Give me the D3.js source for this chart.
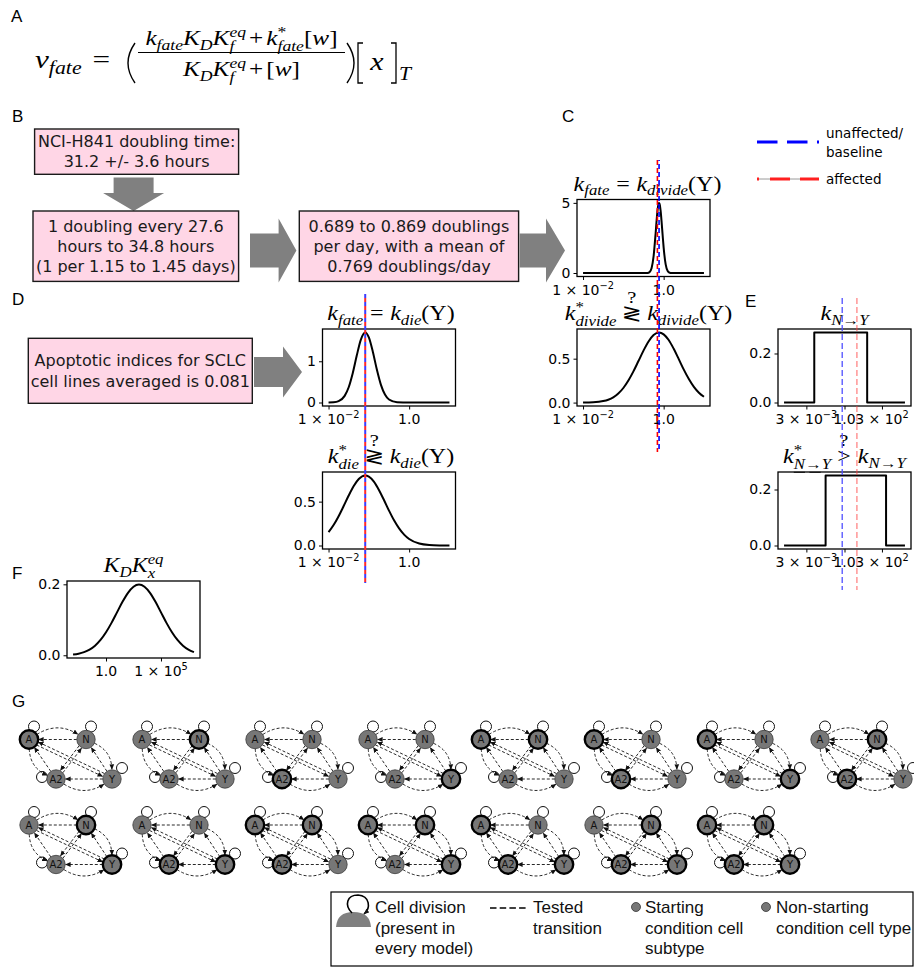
<!DOCTYPE html>
<html>
<head>
<meta charset="utf-8">
<script src="https://cdn.jsdelivr.net/npm/d3@7"></script>
<style>
  html, body { margin: 0; padding: 0; background: #fff; }
  svg { display: block; }
</style>
</head>
<body>
<svg id="fig" width="914" height="968"></svg>
<script>
// ---------------- data ----------------
// Panel C (top): prior on log10 k_divide (per day) for Y cells
const divideLog10 = [-2, -0.45, -0.4, -0.35, -0.3, -0.25, -0.2, -0.175, -0.15, -0.125, -0.114, -0.1, -0.075, -0.05, -0.025, 0, 0.05, 0.1, 0.15, 0.2, 0.25, 1];
const divideDensity = [0, 0.001, 0.008, 0.064, 0.335, 1.18, 2.80, 3.73, 4.51, 4.94, 4.99, 4.91, 4.43, 3.62, 2.69, 1.81, 0.61, 0.14, 0.02, 0.002, 0, 0];
// Panel C (bottom): prior on log10 k*_divide
const divideStarLog10 = [-2, -1.75, -1.5, -1.375, -1.25, -1.125, -1, -0.875, -0.75, -0.625, -0.5, -0.375, -0.25, -0.114, 0, 0.125, 0.25, 0.375, 0.5, 0.625, 0.75, 0.875, 1];
const divideStarDensity = [0.001, 0.004, 0.017, 0.033, 0.060, 0.103, 0.166, 0.251, 0.355, 0.473, 0.592, 0.696, 0.769, 0.798, 0.777, 0.712, 0.612, 0.495, 0.375, 0.268, 0.179, 0.113, 0.067];
// Panel D (top): prior on log10 k_die
const dieLog10 = [-2, -1.875, -1.75, -1.6, -1.5, -1.4, -1.3, -1.2, -1.09, -1.0, -0.9, -0.8, -0.7, -0.6, -0.5, -0.3, 0, 0.5, 1];
const dieDensity = [0.001, 0.006, 0.033, 0.161, 0.370, 0.711, 1.138, 1.521, 1.698, 1.578, 1.225, 0.793, 0.428, 0.193, 0.073, 0.006, 0, 0, 0];
// Panel D (bottom): prior on log10 k*_die
const dieStarLog10 = [-2, -1.875, -1.75, -1.625, -1.5, -1.375, -1.25, -1.09, -1, -0.875, -0.75, -0.625, -0.5, -0.375, -0.25, -0.125, 0, 0.25, 0.5, 0.75, 1];
const dieStarDensity = [0.152, 0.233, 0.334, 0.450, 0.570, 0.678, 0.758, 0.798, 0.785, 0.728, 0.633, 0.518, 0.398, 0.287, 0.195, 0.124, 0.074, 0.022, 0.005, 0.001, 0];
// Panel E: log-uniform priors on the N -> Y transition rate
const transLog10 = [-4, -2, -2, 1.5, 1.5, 4];
const transDensity = [0, 0, 0.2857, 0.2857, 0, 0];
const transStarLog10 = [-4, -1.25, -1.25, 2.75, 2.75, 4];
const transStarDensity = [0, 0, 0.25, 0.25, 0, 0];
// Panel F: prior on log10 K_D K_x^eq
const kdLog10 = [-3, -2.5, -2, -1.5, -1, -0.5, 0, 0.5, 1, 1.5, 2, 2.5, 3, 3.5, 4, 4.5, 5, 5.5, 6, 6.5, 7, 7.5, 8];
const kdDensity = [0.0022, 0.0045, 0.0088, 0.0159, 0.0270, 0.0431, 0.0648, 0.0913, 0.1210, 0.1506, 0.1760, 0.1933, 0.1995, 0.1933, 0.1760, 0.1506, 0.1210, 0.0913, 0.0648, 0.0431, 0.0270, 0.0159, 0.0088];

// reference rates (log10): unaffected/baseline and affected
const divideRef = { baseline: -0.114, affected: -0.155 };
const dieRef = { baseline: -1.09, affected: -1.09 };
const transRef = { baseline: -0.15, affected: 0.82 };

// tick values and labels
const rateTicks = [-2, 0];
const rateTickLabels = ['1 × 10^−2', '1.0'];
const transTicks = [Math.log10(0.003), 0, Math.log10(300)];
const transTickLabels = ['3 × 10^−3', '1.0', '3 × 10^2'];
const kdTicks = [0, 5];
const kdTickLabels = ['1.0', '1 × 10^5'];
const divideYTicks = [0, 5], divideStarYTicks = [0, 0.5];
const dieYTicks = [0, 1], dieStarYTicks = [0, 0.5];
const transYTicks = [0, 0.2], kdYTicks = [0, 0.2];

// Panel B / D text boxes
const doublingLines = ['NCI-H841 doubling time:', '31.2 +/- 3.6 hours'];
const intervalLines = ['1 doubling every 27.6', 'hours to 34.8 hours', '(1 per 1.15 to 1.45 days)'];
const rateLines = ['0.689 to 0.869 doublings', 'per day, with a mean of', '0.769 doublings/day'];
const apoptosisLines = ['Apoptotic indices for SCLC', 'cell lines averaged is 0.081'];

// Panel G: candidate model topologies
const cellTypes = ['A', 'N', 'A2', 'Y'];
const startingSets = [
  ['A'], ['N'], ['A2'], ['Y'],
  ['A', 'N'], ['A', 'A2'], ['A', 'Y'], ['N', 'A2'],
  ['N', 'Y'], ['A2', 'Y'],
  ['A', 'N', 'A2'], ['A', 'N', 'Y'], ['A', 'A2', 'Y'], ['N', 'A2', 'Y'],
  ['A', 'N', 'A2', 'Y']
];
const transitions = [
  ['A', 'N', 'arc'], ['N', 'A', 'line'],
  ['N', 'Y', 'arc'], ['Y', 'N', 'line'],
  ['A2', 'Y', 'arc'], ['Y', 'A2', 'line'],
  ['A', 'A2', 'arc'], ['A2', 'A', 'line'],
  ['A', 'Y', 'pair'], ['Y', 'A', 'pair'],
  ['N', 'A2', 'pair'], ['A2', 'N', 'pair']
];
const legendItems = [
  ['Cell division', '(present in', 'every model)'],
  ['Tested', 'transition'],
  ['Starting', 'condition cell', 'subtype'],
  ['Non-starting', 'condition cell type']
];

// ---------------- setup ----------------
const SANS = "'Liberation Sans', Arial, sans-serif";
const DJV = "'DejaVu Sans', Verdana, sans-serif";
const SERIF = "'Liberation Serif', 'Times New Roman', serif";
const SYM = "'DejaVu Serif', 'DejaVu Sans', serif";
const MATH_SX = 1.2;   // horizontal widening of the serif math glyphs
const svg = d3.select('#fig');

const defs = svg.append('defs');
defs.append('marker')
  .attr('id', 'arrowhead').attr('viewBox', '0 0 6 6')
  .attr('refX', 5.6).attr('refY', 3).attr('markerWidth', 5.5).attr('markerHeight', 5.5)
  .attr('markerUnits', 'userSpaceOnUse').attr('orient', 'auto')
  .append('path').attr('d', 'M0,0.4L6,3L0,5.6Z').attr('fill', '#111');

// ---- tiny math typesetter (italic serif, sub/superscripts) ----
const I = t => ({ t, it: true });
const R = t => ({ t });
const SB = t => ({ t, it: true, lv: 'sub' });
const SP = t => ({ t, lv: 'sup' });
const ST = (a, b) => ({ stack: [a, b] });
const GAP = g => ({ gap: g });

function mathRow(parent, tokens, size, family) {
  const g = parent.append('g');
  let x = 0;
  const small = size * 0.7, subY = size * 0.24, supY = -size * 0.4;
  const add = (t, x0, y0, fs, ital, fam, anchor) => {
    const el = g.append('text').attr('x', x0).attr('y', y0)
      .attr('font-size', fs).attr('font-family', fam || family)
      .attr('font-style', ital ? 'italic' : 'normal')
      .attr('text-anchor', anchor || 'start').attr('fill', '#000').text(t);
    return el.node().getComputedTextLength();
  };
  const uline = (x1, x2, y) => g.append('line').attr('x1', x1).attr('x2', x2).attr('y1', y).attr('y2', y)
    .attr('stroke', '#000').attr('stroke-width', 0.8);
  tokens.forEach(tk => {
    if (tk.gap !== undefined) { x += tk.gap * size; return; }
    if (tk.stack) {
      const w1 = add(tk.stack[0], x, supY, small, tk.stack[0] !== '*', tk.fam);
      const w2 = add(tk.stack[1], x, subY + 1, small, true, tk.fam);
      if (tk.ul) tk.ul.forEach(u => uline(x + u[0] * w2, x + u[1] * w2, subY + 4.5));
      x += Math.max(w1, w2); return;
    }
    const fs = tk.lv ? small : size * (tk.scale || 1);
    const yy = tk.lv === 'sub' ? subY : tk.lv === 'sup' ? supY : (tk.dy || 0) * size;
    const w = add(tk.t, x, yy, fs, tk.it, tk.fam);
    if (tk.over) add(tk.over, x + w / 2, -size * 0.85, size * 0.85, false, SERIF, 'middle');
    if (tk.ulw) tk.ulw.forEach(u => uline(x + u[0], x + u[1], size * 0.45));
    x += w;
  });
  return { g, w: x };
}
function placeMath(m, x, y, anchor, sx) {
  sx = sx || 1;
  const W = m.w * sx;
  const x0 = anchor === 'middle' ? x - W / 2 : anchor === 'end' ? x - W : x;
  m.g.attr('transform', `translate(${x0},${y}) scale(${sx},1)`);
  return x0 + W;
}
function tickTokens(label) {
  const [base, sup] = label.split('^');
  return sup ? [R(base), SP(sup)] : [R(base)];
}

// ---- panel letters ----
[['A', 11, 22], ['B', 12, 122], ['C', 562, 122], ['D', 12, 305], ['E', 745, 307], ['F', 12, 579], ['G', 12, 707]]
  .forEach(([t, x, y]) => svg.append('text').attr('x', x).attr('y', y).attr('font-family', SANS)
    .attr('font-size', 17).attr('fill', '#000').text(t));

// ---- Panel A: rate law ----
const fA = svg.append('g');
const lhs = mathRow(fA, [I('ν'), SB('fate'), GAP(0.35), R('=')], 26, SERIF);
placeMath(lhs, 35, 68, 'start', MATH_SX);
const stroke = (d, w) => fA.append('path').attr('d', d).attr('fill', 'none').attr('stroke', '#000').attr('stroke-width', w);
stroke('M135,43 Q121,63 135,83', 1.4);                       // (
const num = mathRow(fA, [I('k'), SB('fate'), I('K'), SB('D'), I('K'), ST('eq', 'f'), GAP(0.12), R('+'), GAP(0.12),
  I('k'), ST('*', 'fate'), R('['), I('w'), R(']')], 21, SERIF);
const den = mathRow(fA, [I('K'), SB('D'), I('K'), ST('eq', 'f'), GAP(0.12), R('+'), GAP(0.12), R('['), I('w'), R(']')], 21, SERIF);
placeMath(num, 241.5, 45, 'middle', MATH_SX);
placeMath(den, 241.5, 76, 'middle', MATH_SX);
fA.append('line').attr('x1', 138).attr('x2', 345).attr('y1', 52.5).attr('y2', 52.5)
  .attr('stroke', '#000').attr('stroke-width', 1);
stroke('M347,43 Q361,63 347,83', 1.4);                       // )
stroke('M363,43 H358 V83 H363', 1.3);                        // [
const xv = mathRow(fA, [I('x')], 25, SERIF);
placeMath(xv, 377, 70, 'middle', MATH_SX);
stroke('M391,43 H396 V83 H391', 1.3);                        // ]
const tsub = mathRow(fA, [I('T')], 18, SERIF);
placeMath(tsub, 399, 80, 'start', MATH_SX);

// ---- text boxes and block arrows ----
function textBox(x, y, w, h, lines, lineGap) {
  svg.append('rect').attr('x', x).attr('y', y).attr('width', w).attr('height', h)
    .attr('fill', '#ffd6e6').attr('stroke', '#1a1a1a').attr('stroke-width', 1.4);
  const n = lines.length, cy = y + h / 2;
  lines.forEach((t, i) => svg.append('text').attr('x', x + w / 2)
    .attr('y', cy + (i - (n - 1) / 2) * lineGap + 5.6).attr('text-anchor', 'middle')
    .attr('font-family', DJV).attr('font-size', 16).attr('fill', '#1a1a1a').text(t));
}
function arrowRight(x0, xh, xt, cy, sh, hh) {
  svg.append('path').attr('fill', '#808080')
    .attr('d', `M${x0},${cy - sh}H${xh}V${cy - hh}L${xt},${cy}L${xh},${cy + hh}V${cy + sh}H${x0}Z`);
}
function arrowDown(cx, y0, yh, yt, sh, hh) {
  svg.append('path').attr('fill', '#808080')
    .attr('d', `M${cx - sh},${y0}V${yh}H${cx - hh}L${cx},${yt}L${cx + hh},${yh}H${cx + sh}V${y0}Z`);
}
textBox(34.6, 129, 204, 45.3, doublingLines, 19.6);
arrowDown(133.6, 177.5, 193, 211, 20, 30.5);
textBox(33, 211, 205.6, 70.4, intervalLines, 19.7);
arrowRight(250, 278.6, 296.4, 250.5, 17, 32);
textBox(299.3, 211, 219.3, 70.4, rateLines, 19.7);
arrowRight(519.6, 546, 565, 250.5, 17, 32);
textBox(28.3, 338.3, 224, 65, apoptosisLines, 21);
arrowRight(254, 283, 302, 372, 15, 25.5);

// ---- density panels ----
const PW = 133, PH = 77;
function densityPanel(o) {
  const g = svg.append('g').attr('transform', `translate(${o.left},${o.top})`);
  const xe = d3.extent(o.xs), xp = (xe[1] - xe[0]) * 0.05;
  const ye = d3.extent(o.ys), yp = (ye[1] - ye[0]) * 0.05;
  const x = d3.scaleLinear().domain([xe[0] - xp, xe[1] + xp]).range([0, PW]);
  const y = d3.scaleLinear().domain([ye[0] - yp, ye[1] + yp]).range([PH, 0]);
  const pts = o.xs.map((v, i) => [v, o.ys[i]]);
  g.append('path').datum(pts).attr('fill', 'none').attr('stroke', '#000').attr('stroke-width', 2)
    .attr('stroke-linejoin', 'round')
    .attr('d', d3.line().x(d => x(d[0])).y(d => y(d[1])).curve(o.step ? d3.curveLinear : d3.curveMonotoneX));
  g.append('rect').attr('width', PW).attr('height', PH).attr('fill', 'none')
    .attr('stroke', '#000').attr('stroke-width', 1.3);
  const ax = g.append('g').attr('transform', `translate(0,${PH})`)
    .call(d3.axisBottom(x).tickValues(o.xTicks).tickSize(3.5).tickFormat(() => ''));
  ax.select('.domain').remove();
  ax.selectAll('line').attr('stroke', '#000').attr('stroke-width', 1);
  o.xTicks.forEach((t, i) => placeMath(mathRow(g, tickTokens(o.xLabels[i]), 14, DJV), x(t), PH + 18, 'middle'));
  const ay = g.append('g').call(d3.axisLeft(y).tickValues(o.yTicks).tickSize(3.5).tickFormat(o.yFmt));
  ay.select('.domain').remove();
  ay.selectAll('line').attr('stroke', '#000').attr('stroke-width', 1);
  ay.selectAll('text').attr('font-family', DJV).attr('font-size', 14).attr('fill', '#000').attr('x', -6.5);
  if (o.title) placeMath(mathRow(g, o.title, 20, SERIF), PW / 2 + (o.titleShift || 0), -9, 'middle', MATH_SX);
  return { x: v => o.left + x(v), y: v => o.top + y(v) };
}
const f0 = d3.format('d'), f1 = d3.format('.1f');
const titleFate = sub => [I('k'), SB('fate'), GAP(0.28), R('='), GAP(0.28), I('k'), SB(sub), R('(Y)')];
const titleStar = sub => [I('k'), ST('*', sub), GAP(0.22), { t: '≷', fam: SYM, over: '?' }, GAP(0.22), I('k'), SB(sub), R('(Y)')];

const pC1 = densityPanel({ left: 577, top: 199.5, xs: divideLog10, ys: divideDensity, xTicks: rateTicks, xLabels: rateTickLabels,
  yTicks: divideYTicks, yFmt: f0, title: titleFate('divide'), titleShift: 4 });
const pC2 = densityPanel({ left: 577, top: 329, xs: divideStarLog10, ys: divideStarDensity, xTicks: rateTicks, xLabels: rateTickLabels,
  yTicks: divideStarYTicks, yFmt: f1, title: titleStar('divide'), titleShift: 5 });
const pD1 = densityPanel({ left: 322.5, top: 329, xs: dieLog10, ys: dieDensity, xTicks: rateTicks, xLabels: rateTickLabels,
  yTicks: dieYTicks, yFmt: f0, title: titleFate('die'), titleShift: 2 });
const pD2 = densityPanel({ left: 322.5, top: 472, xs: dieStarLog10, ys: dieStarDensity, xTicks: rateTicks, xLabels: rateTickLabels,
  yTicks: dieStarYTicks, yFmt: f1, title: titleStar('die'), titleShift: 2 });
const pE1 = densityPanel({ left: 778, top: 329, xs: transLog10, ys: transDensity, xTicks: transTicks, xLabels: transTickLabels,
  yTicks: transYTicks, yFmt: f1, step: true, title: [I('k'), SB('N→Y')] });
const pE2 = densityPanel({ left: 778, top: 472, xs: transStarLog10, ys: transStarDensity, xTicks: transTicks, xLabels: transTickLabels,
  yTicks: transYTicks, yFmt: f1, step: true,
  title: [I('k'), { stack: ['*', 'N→Y'], ul: [[0, 0.3], [0.42, 0.72]] }, GAP(0.25),
    { t: '>', over: '?', ulw: [0, 9] }, GAP(0.3), I('k'), SB('N→Y')] });
const pF = densityPanel({ left: 67, top: 581, xs: kdLog10, ys: kdDensity, xTicks: kdTicks, xLabels: kdTickLabels,
  yTicks: kdYTicks, yFmt: f1, title: [I('K'), SB('D'), I('K'), ST('eq', 'x')] });

// ---- reference lines: unaffected/baseline (blue) and affected (red) ----
function vline(x, y1, y2, color, dash, width, offset, opacity) {
  svg.append('line').attr('x1', x).attr('x2', x).attr('y1', y1).attr('y2', y2)
    .attr('stroke', color).attr('stroke-width', width).attr('stroke-dasharray', dash)
    .attr('stroke-dashoffset', offset || 0).attr('opacity', opacity || 1);
}
vline(pC1.x(divideRef.affected), 160, 452, '#ff0000', '5,3', 1.6);
vline(pC1.x(divideRef.baseline), 160, 452, '#0000ff', '5,3', 1.6, 4);
vline(pD1.x(dieRef.baseline), 294, 583, '#3c3cff', '4,4', 2);
vline(pD1.x(dieRef.affected), 294, 583, '#ff2a2a', '4,4', 2, 4);
vline(pE1.x(transRef.baseline), 298, 590, '#4d4dff', '6,3', 1.5, 0, 0.85);
vline(pE1.x(transRef.affected), 298, 590, '#ff4040', '6,3', 1.5, 0, 0.55);

// legend for the reference lines
svg.append('line').attr('x1', 757).attr('x2', 819).attr('y1', 142).attr('y2', 142)
  .attr('stroke', '#0000ff').attr('stroke-width', 3.2).attr('stroke-dasharray', '20.5,9.5');
svg.append('line').attr('x1', 757).attr('x2', 819).attr('y1', 179).attr('y2', 179)
  .attr('stroke', '#9a9a9a').attr('stroke-width', 1);
svg.append('line').attr('x1', 757).attr('x2', 819).attr('y1', 179).attr('y2', 179)
  .attr('stroke', '#ff2020').attr('stroke-width', 3.2).attr('stroke-dasharray', '2,11,20,10,20');
[['unaffected/', 138], ['baseline', 157], ['affected', 184]].forEach(([t, y]) =>
  svg.append('text').attr('x', 826).attr('y', y).attr('font-family', DJV).attr('font-size', 13.5)
    .attr('fill', '#000').text(t));

// ---- Panel G: model topologies ----
const NODE_R = 9.2;
const nodePos = { A: [0, 0], N: [57, 0], A2: [27, 39.5], Y: [83, 39.5] };
const loopPos = { A: [5, -13], N: [5, -13], A2: [-14, -2], Y: [10, -11] };
const centroid = [41.75, 19.75];
function toward(p, q, d) {
  const dx = q[0] - p[0], dy = q[1] - p[1], L = Math.hypot(dx, dy);
  return [p[0] + dx / L * d, p[1] + dy / L * d];
}
function edgePath(p, q, kind) {
  const dx = q[0] - p[0], dy = q[1] - p[1], L = Math.hypot(dx, dy), ux = dx / L, uy = dy / L;
  if (kind === 'arc') {
    const mx = (p[0] + q[0]) / 2, my = (p[1] + q[1]) / 2;
    let nx = -uy, ny = ux;
    if ((mx - centroid[0]) * nx + (my - centroid[1]) * ny < 0) { nx = -nx; ny = -ny; }
    const c = [mx + nx * L * 0.32, my + ny * L * 0.32];
    const s = toward(p, c, NODE_R), e = toward(q, c, NODE_R + 0.3);
    return `M${s}Q${c} ${e}`;
  }
  const off = kind === 'pair' ? 1.7 : 0, ox = -uy * off, oy = ux * off;
  return `M${p[0] + ux * NODE_R + ox},${p[1] + uy * NODE_R + oy}L${q[0] - ux * (NODE_R + 0.3) + ox},${q[1] - uy * (NODE_R + 0.3) + oy}`;
}
startingSets.forEach((set, i) => {
  const row = i < 8 ? 0 : 1, col = row ? i - 8 : i;
  const g = svg.append('g').attr('transform', `translate(${29 + 113 * col},${row ? 825 : 739.5})`);
  cellTypes.forEach(c => g.append('circle')
    .attr('cx', nodePos[c][0] + loopPos[c][0]).attr('cy', nodePos[c][1] + loopPos[c][1]).attr('r', 5.5)
    .attr('fill', '#fff').attr('stroke', '#111').attr('stroke-width', 1));
  transitions.forEach(([a, b, kind]) => g.append('path').attr('d', edgePath(nodePos[a], nodePos[b], kind))
    .attr('fill', 'none').attr('stroke', '#111').attr('stroke-width', 0.9)
    .attr('stroke-dasharray', '3,2').attr('marker-end', 'url(#arrowhead)'));
  cellTypes.forEach(c => {
    const start = set.includes(c);
    g.append('circle').attr('cx', nodePos[c][0]).attr('cy', nodePos[c][1]).attr('r', NODE_R)
      .attr('fill', '#777').attr('stroke', start ? '#000' : '#3a3a3a').attr('stroke-width', start ? 2.4 : 0.8);
    g.append('text').attr('x', nodePos[c][0]).attr('y', nodePos[c][1] + 3.6).attr('text-anchor', 'middle')
      .attr('font-family', DJV).attr('font-size', 10).attr('fill', '#111').text(c);
  });
});

// ---- Panel G legend ----
const lg = svg.append('g');
lg.append('rect').attr('x', 331).attr('y', 892).attr('width', 582).attr('height', 74)
  .attr('fill', '#fff').attr('stroke', '#000').attr('stroke-width', 1.2);
lg.append('path').attr('d', 'M336,927 Q337,912 353.5,912 Q370,912 371,927 Z').attr('fill', '#808080');
lg.append('path').attr('d', 'M352,913 C344,905 347,895 358,895 C370,896 371,908 364,914')
  .attr('fill', 'none').attr('stroke', '#000').attr('stroke-width', 1.6).attr('marker-end', 'url(#arrowhead)');
lg.append('line').attr('x1', 490).attr('x2', 528).attr('y1', 908).attr('y2', 908)
  .attr('stroke', '#000').attr('stroke-width', 1.3).attr('stroke-dasharray', '6.5,3.2');
[[636, 907], [766, 907]].forEach(([cx, cy]) => lg.append('circle').attr('cx', cx).attr('cy', cy).attr('r', 4.5)
  .attr('fill', '#777').attr('stroke', '#333').attr('stroke-width', 0.8));
const legendX = [375, 533, 645, 776];
legendItems.forEach((lines, k) => lines.forEach((t, i) => lg.append('text').attr('x', legendX[k]).attr('y', 913 + i * 20.5)
  .attr('font-family', SANS).attr('font-size', 17).attr('fill', '#111').text(t)));
</script>
</body>
</html>
